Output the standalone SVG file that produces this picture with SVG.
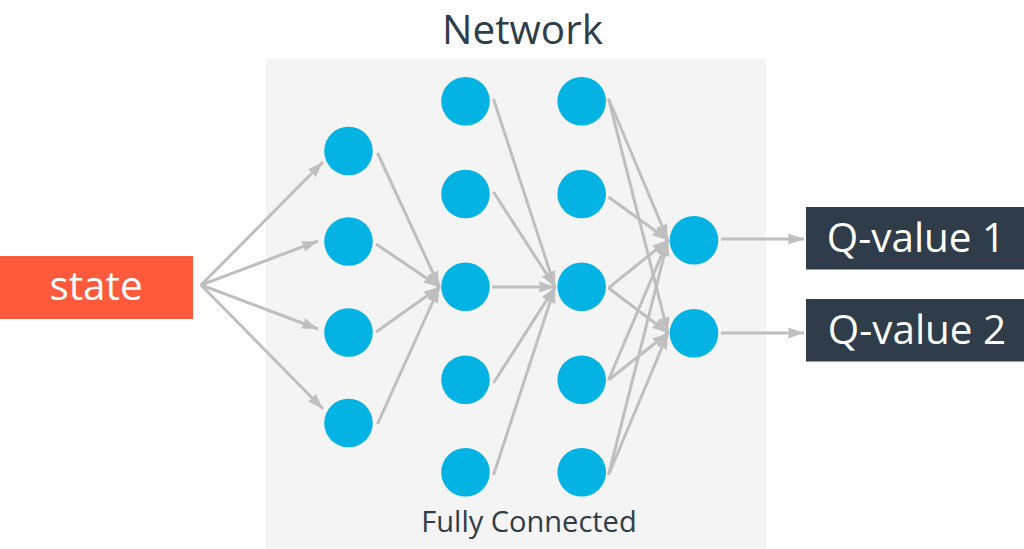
<svg xmlns="http://www.w3.org/2000/svg" width="1024" height="549" viewBox="0 0 1024 549">
<style>
text{font-family:"Open Sans","Noto Sans","Liberation Sans",sans-serif;text-anchor:middle}
.n{fill:#02b3e4}
.c line{stroke:#bfbfbf;stroke-width:3;marker-end:url(#a)}
.lb{fill:#fff;font-size:40.400px}
.box{fill:#2e3d49}
</style>
<defs><marker id="a" markerUnits="userSpaceOnUse" markerWidth="20" markerHeight="12" refX="16" refY="5.500" orient="auto" viewBox="0 0 20 11"><path d="M0 0L16 5.500L0 11L1 5.500Z" fill="#bfbfbf"/></marker></defs>
<rect id="panel" x="266" y="59" width="500" height="490" fill="#f4f4f4"/>
<text id="title" x="522.500" y="44" font-size="40.400" fill="#2e3d49">Network</text>
<text id="caption" x="529" y="532" font-size="29" fill="#2e3d49">Fully Connected</text>
<g id="state"><rect x="0" y="256" width="193" height="63" fill="#ff5a3c"/><text class="lb" x="96" y="300">state</text></g>
<g id="q1"><rect class="box" x="806" y="207" width="218" height="62.500"/><text class="lb" x="916" y="252">Q-value 1</text></g>
<g id="q2"><rect class="box" x="806" y="299" width="218" height="62.500"/><text class="lb" x="917" y="344">Q-value 2</text></g>
<g id="connectors" class="c">
<line x1="201" y1="285" x2="323" y2="162"/>
<line x1="201" y1="285" x2="318" y2="241"/>
<line x1="201" y1="285" x2="318" y2="329"/>
<line x1="201" y1="285" x2="323" y2="409"/>
<line x1="377.500" y1="153" x2="439.500" y2="287"/>
<line x1="376" y1="244" x2="439.500" y2="287"/>
<line x1="376" y1="332" x2="439.500" y2="287"/>
<line x1="377.500" y1="424" x2="439.500" y2="287"/>
<line x1="493.500" y1="99" x2="555" y2="287"/>
<line x1="493.500" y1="192" x2="555" y2="287"/>
<line x1="492" y1="287" x2="555" y2="287"/>
<line x1="493.500" y1="383" x2="555" y2="287"/>
<line x1="493.500" y1="475" x2="555" y2="287"/>
<line x1="608.500" y1="98.500" x2="668" y2="240"/>
<line x1="608.500" y1="98.500" x2="668" y2="333"/>
<line x1="608.500" y1="197" x2="668" y2="240"/>
<line x1="608.500" y1="288" x2="668" y2="240"/>
<line x1="608.500" y1="288" x2="668" y2="333"/>
<line x1="608.500" y1="380" x2="668" y2="240"/>
<line x1="608.500" y1="380" x2="668" y2="333"/>
<line x1="608.500" y1="475" x2="668" y2="240"/>
<line x1="608.500" y1="475" x2="668" y2="333"/>
<line x1="721" y1="239" x2="804" y2="239"/>
<line x1="721" y1="333" x2="804" y2="333"/>
</g>
<g id="n1-1"><circle class="n" cx="348.500" cy="151" r="24.300"/></g>
<g id="n1-2"><circle class="n" cx="348.500" cy="241.500" r="24.300"/></g>
<g id="n1-3"><circle class="n" cx="348.500" cy="332.500" r="24.300"/></g>
<g id="n1-4"><circle class="n" cx="348.500" cy="423" r="24.300"/></g>
<g id="n2-1"><circle class="n" cx="465.500" cy="101.300" r="24.300"/></g>
<g id="n2-2"><circle class="n" cx="465.500" cy="194" r="24.300"/></g>
<g id="n2-3"><circle class="n" cx="465.500" cy="286.700" r="24.300"/></g>
<g id="n2-4"><circle class="n" cx="465.500" cy="379.700" r="24.300"/></g>
<g id="n2-5"><circle class="n" cx="465.500" cy="472.300" r="24.300"/></g>
<g id="n3-1"><circle class="n" cx="581.700" cy="101.300" r="24.300"/></g>
<g id="n3-2"><circle class="n" cx="581.700" cy="194" r="24.300"/></g>
<g id="n3-3"><circle class="n" cx="581.700" cy="286.700" r="24.300"/></g>
<g id="n3-4"><circle class="n" cx="581.700" cy="379.700" r="24.300"/></g>
<g id="n3-5"><circle class="n" cx="581.700" cy="472.300" r="24.300"/></g>
<g id="n4-1"><circle class="n" cx="694" cy="240.300" r="24.300"/></g>
<g id="n4-2"><circle class="n" cx="694" cy="333.300" r="24.300"/></g>
</svg>
